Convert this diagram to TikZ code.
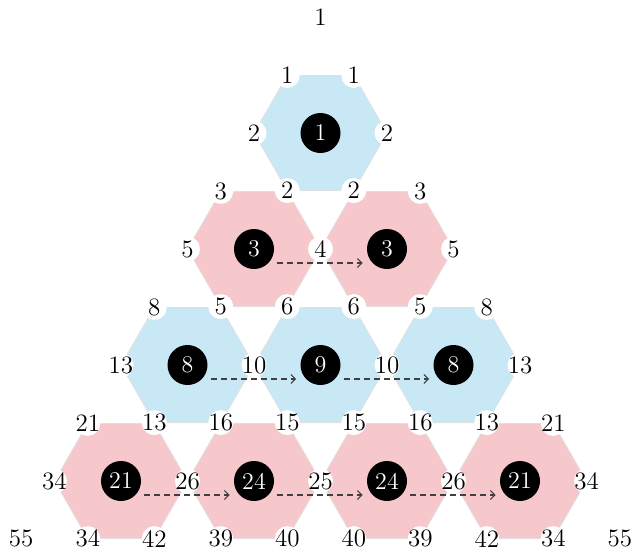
\documentclass[tikz,border=0pt]{standalone}
\usepackage{xcolor}
\usepackage{tikz}
\usetikzlibrary{arrows.meta, shapes.geometric}

\definecolor{hexblue}{RGB}{201,232,246}
\definecolor{hexpink}{RGB}{246,199,203}

\begin{document}
\begin{tikzpicture}[
  x=0.5pt, y=-0.5pt,
  hexa/.style={regular polygon, regular polygon sides=6, minimum size=66.5pt,
               inner sep=0pt, outer sep=0pt, draw=black!12, line width=0.4pt},
  bluehex/.style={hexa, fill=hexblue},
  pinkhex/.style={hexa, fill=hexpink},
  vlab/.style={circle, fill=white, inner xsep=-3pt, inner ysep=0pt,
               minimum size=12.5pt, font=\fontsize{12.5}{14}\selectfont},
  core/.style={circle, fill=black, text=white, minimum size=20pt, inner sep=0pt,
               font=\fontsize{12}{14}\selectfont},
  flow/.style={-{Straight Barb[length=2.2pt, width=4.5pt]}, black!75,
               line width=0.55pt, dash pattern=on 3pt off 2pt}
]
\useasboundingbox (0,2) rectangle (636,549);

% hexagons
\node[bluehex] (h1) at (320.5,135) {};
\node[pinkhex] (h21) at (254,251) {};
\node[pinkhex] (h22) at (387,251) {};
\node[bluehex] (h31) at (187.5,367) {};
\node[bluehex] (h32) at (320.5,367) {};
\node[bluehex] (h33) at (453.5,367) {};
\node[pinkhex] (h41) at (121,483) {};
\node[pinkhex] (h42) at (254,483) {};
\node[pinkhex] (h43) at (387,483) {};
\node[pinkhex] (h44) at (520,483) {};

% corner numbers
\node[vlab] (apex) at (320.5,19) {1};
\node[vlab] (n1tl) at (h1.120) {1};
\node[vlab] (n1tr) at (h1.60) {1};
\node[vlab] (n1l) at (h1.180) {2};
\node[vlab] (n1r) at (h1.0) {2};
\node[vlab] (n1bl) at (h1.240) {2};
\node[vlab] (n1br) at (h1.300) {2};

\node[vlab] (n21tl) at (h21.120) {3};
\node[vlab] (n21l) at (h21.180) {5};
\node[vlab] (n21r) at (h21.0) {4};
\node[vlab] (n21bl) at (h21.240) {5};
\node[vlab] (n21br) at (h21.300) {6};
\node[vlab] (n22tr) at (h22.60) {3};
\node[vlab] (n22r) at (h22.0) {5};
\node[vlab] (n22bl) at (h22.240) {6};
\node[vlab] (n22br) at (h22.300) {5};

\node[vlab] (n31tl) at (h31.120) {8};
\node[vlab] (n31l) at (h31.180) {13};
\node[vlab] (n31r) at (h31.0) {10};
\node[vlab] (n31bl) at (h31.240) {13};
\node[vlab] (n31br) at (h31.300) {16};
\node[vlab] (n32r) at (h32.0) {10};
\node[vlab] (n32bl) at (h32.240) {15};
\node[vlab] (n32br) at (h32.300) {15};
\node[vlab] (n33tr) at (h33.60) {8};
\node[vlab] (n33r) at (h33.0) {13};
\node[vlab] (n33bl) at (h33.240) {16};
\node[vlab] (n33br) at (h33.300) {13};

\node[vlab] (n41tl) at (h41.120) {21};
\node[vlab] (n41l) at (h41.180) {34};
\node[vlab] (n41r) at (h41.0) {26};
\node[vlab] (n41bl) at (h41.240) {34};
\node[vlab] (n41br) at (h41.300) {42};
\node[vlab] (n42r) at (h42.0) {25};
\node[vlab] (n42bl) at (h42.240) {39};
\node[vlab] (n42br) at (h42.300) {40};
\node[vlab] (n43r) at (h43.0) {26};
\node[vlab] (n43bl) at (h43.240) {40};
\node[vlab] (n43br) at (h43.300) {39};
\node[vlab] (n44tr) at (h44.60) {21};
\node[vlab] (n44r) at (h44.0) {34};
\node[vlab] (n44bl) at (h44.240) {42};
\node[vlab] (n44br) at (h44.300) {34};
\node[vlab] (left55) at (21.25,540.6) {55};
\node[vlab] (right55) at (619.75,540.6) {55};

% black centres
\node[core] (c1) at (h1) {1};
\node[core] (c21) at (h21) {3};
\node[core] (c22) at (h22) {3};
\node[core] (c31) at (h31) {8};
\node[core] (c32) at (h32) {9};
\node[core] (c33) at (h33) {8};
\node[core] (c41) at (h41) {21};
\node[core] (c42) at (h42) {24};
\node[core] (c43) at (h43) {24};
\node[core] (c44) at (h44) {21};

\draw[flow] ([xshift=1.5pt,yshift=-7pt]c21.east) -- ([xshift=-2pt,yshift=-7pt]c22.west);
\draw[flow] ([xshift=1.5pt,yshift=-7pt]c31.east) -- ([xshift=-2pt,yshift=-7pt]c32.west);
\draw[flow] ([xshift=1.5pt,yshift=-7pt]c32.east) -- ([xshift=-2pt,yshift=-7pt]c33.west);
\draw[flow] ([xshift=1.5pt,yshift=-7pt]c41.east) -- ([xshift=-2pt,yshift=-7pt]c42.west);
\draw[flow] ([xshift=1.5pt,yshift=-7pt]c42.east) -- ([xshift=-2pt,yshift=-7pt]c43.west);
\draw[flow] ([xshift=1.5pt,yshift=-7pt]c43.east) -- ([xshift=-2pt,yshift=-7pt]c44.west);
\end{tikzpicture}
\end{document}
